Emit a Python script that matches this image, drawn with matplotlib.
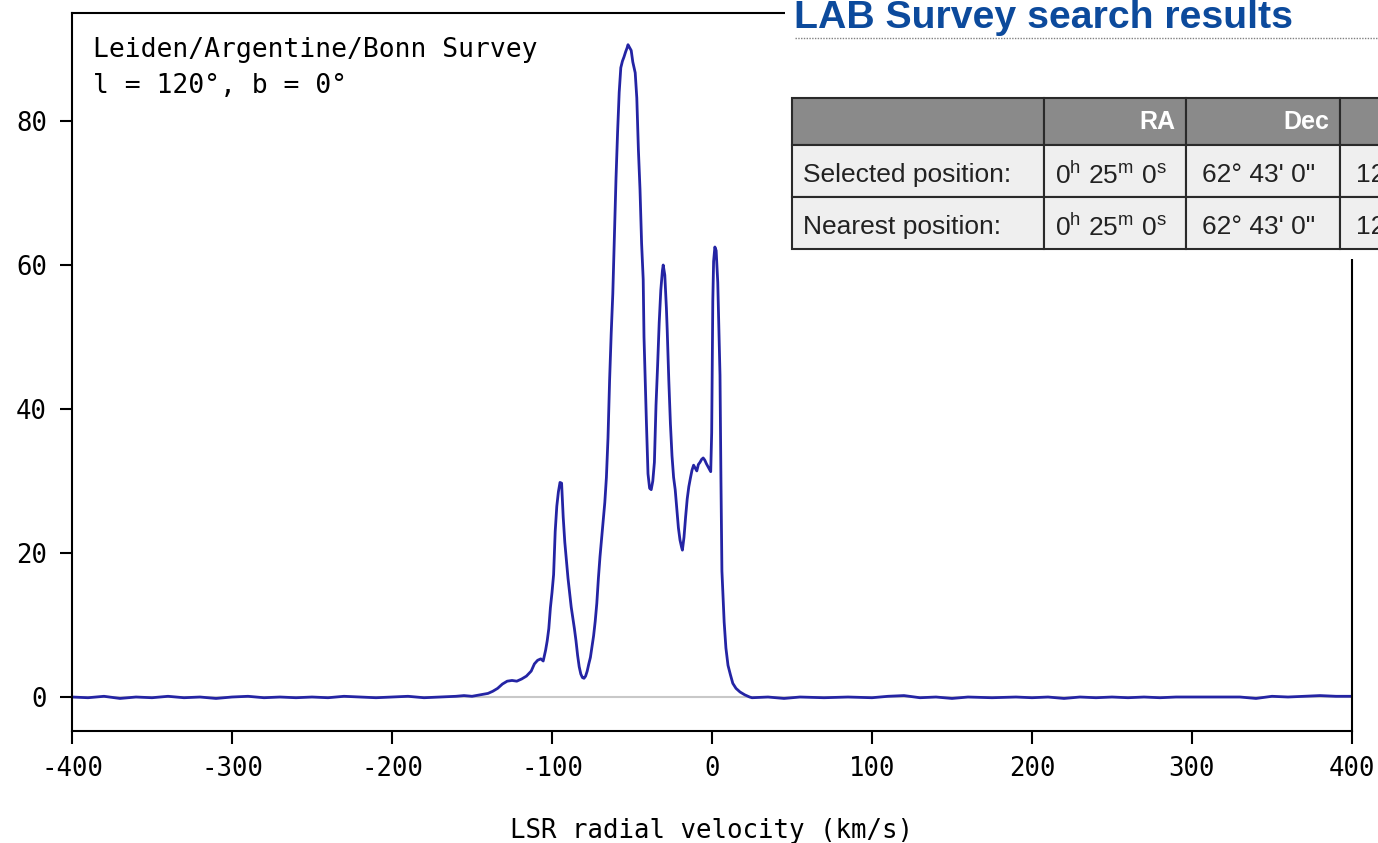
import numpy as np
import matplotlib
matplotlib.use("Agg")
import matplotlib.pyplot as plt
from matplotlib.patches import Rectangle
from matplotlib.lines import Line2D

plt.rcParams['mathtext.fontset'] = 'custom'
plt.rcParams['mathtext.rm'] = 'Liberation Sans'
plt.rcParams['mathtext.default'] = 'rm'

# LAB spectrum, l = 120, b = 0
velocity = [-400, -390, -380, -370, -360, -350, -340, -330, -320, -310, -300, -290, -280,
            -270, -260, -250, -240, -230, -220, -210, -200, -190, -180, -170, -160, -155,
            -150, -145, -140, -137, -134, -131, -128, -125, -122, -119, -116, -113, -111,
            -109, -107, -105.5, -104, -103, -102, -101, -100, -99, -98, -97, -96, -95, -94,
            -93, -92, -91, -90, -89, -88, -87, -86, -85, -84, -83, -82, -81, -80, -79, -78,
            -77, -76, -75, -74, -73, -72, -71, -70, -69, -68, -67, -66, -65, -64, -63, -62,
            -61, -60, -59, -58, -57, -56, -55, -54, -53, -52.5, -51.5, -50.5, -49.5, -48,
            -47, -46, -45, -44, -43, -42.5, -41.5, -41, -40, -39, -38, -37, -36, -35, -34,
            -33, -32, -31, -30.5, -29.5, -28.5, -28, -27, -26, -25, -24, -23, -22, -21, -20,
            -19, -18.5, -17.5, -16.5, -15.5, -14.5, -13.5, -12.5, -11.5, -10.5, -9.5, -8.5,
            -7.5, -6.5, -5.5, -4.5, -3.5, -2.5, -1.5, -0.8, -0.2, 0.5, 1.0, 1.8, 2.6, 3.6,
            4.2, 5.0, 5.6, 6.2, 7.0, 7.6, 8.7, 10, 11.5, 13, 15, 17.5, 20.5, 23.5,
            25, 35, 45, 55, 70, 85, 100, 110, 120, 130, 140, 150, 160, 175, 190, 200, 210,
            220, 230, 240, 250, 260, 270, 280, 290, 300, 310, 320, 330, 340, 350, 360, 370,
            380, 390, 400]
brightness = [0.0, -0.1, 0.1, -0.2, 0.0, -0.1, 0.1, -0.1, 0.0, -0.2, 0.0, 0.1, -0.1,
              0.0, -0.1, 0.0, -0.1, 0.1, 0.0, -0.1, 0.0, 0.1, -0.1, 0.0, 0.1, 0.2,
              0.1, 0.3, 0.5, 0.8, 1.2, 1.8, 2.2, 2.3, 2.2, 2.5, 2.9, 3.6, 4.6,
              5.1, 5.3, 5.0, 6.5, 7.8, 9.5, 12.4, 14.5, 17.0, 23.0, 26.5, 28.5, 29.8, 29.7,
              25.0, 21.5, 19.0, 16.5, 14.5, 12.5, 11.0, 9.5, 7.8, 5.8, 4.2, 3.2, 2.7, 2.6, 2.9, 3.6,
              4.6, 5.5, 7.0, 8.5, 10.5, 13.0, 16.5, 19.5, 22.0, 24.5, 27.0, 30.5, 36.0, 44.0, 50.5, 56.0,
              64.0, 72.0, 78.5, 84.0, 87.4, 88.3, 88.9, 89.6, 90.2, 90.6, 90.2, 89.8, 88.2, 86.7,
              83.2, 76.0, 70.5, 63.0, 58.0, 50.0, 42.0, 38.2, 31.0, 29.0, 28.8, 30.0, 32.6, 40.5, 46.0,
              52.0, 56.5, 59.2, 60.0, 58.6, 54.0, 51.0, 44.0, 38.0, 33.5, 30.5, 28.8, 26.2, 23.5, 21.8,
              20.8, 20.4, 22.2, 25.0, 27.5, 29.2, 30.4, 31.5, 32.2, 31.8, 31.4, 32.3,
              32.6, 33.0, 33.2, 32.9, 32.4, 32.0, 31.6, 31.3, 36.7, 55.0, 60.5, 62.5, 62.0, 57.6,
              52.0, 44.7, 30.0, 17.5, 13.5, 10.4, 6.8, 4.4, 3.1, 1.9, 1.2, 0.7, 0.3, 0.0,
              -0.1, 0.0, -0.2, 0.0, -0.1, 0.0, -0.1, 0.1, 0.2, -0.1, 0.0, -0.2, 0.0, -0.1, 0.0, -0.1, 0.0,
              -0.2, 0.0, -0.1, 0.0, -0.1, 0.0, -0.1, 0.0, 0.0, 0.0, 0.0, 0.0, -0.2, 0.1, 0.0, 0.1,
              0.2, 0.1, 0.1]

x_ticks = [-400, -300, -200, -100, 0, 100, 200, 300, 400]
y_ticks = [0, 20, 40, 60, 80]

survey_label = "Leiden/Argentine/Bonn Survey"
position_label = "l = 120°, b = 0°"
page_title = "LAB Survey search results"
table_header = ["", "RA", "Dec"]
table_rows = [["Selected position:", "0$^{h}$ 25$^{m}$ 0$^{s}$", "62° 43' 0\"", "120"],
              ["Nearest position:", "0$^{h}$ 25$^{m}$ 0$^{s}$", "62° 43' 0\"", "120"]]

W, H = 1378, 843
fig = plt.figure(figsize=(W / 100, H / 100), dpi=100)
ax = fig.add_axes([72 / W, 1 - 731 / H, 1280 / W, 718 / H])

mono = "DejaVu Sans Mono"
ax.axhline(0, color="#c8c8c8", lw=1.5, zorder=1)
ax.plot(velocity, brightness, color="#2424a4", lw=2.0, zorder=2)

ax.set_xlim(-400, 400)
ax.set_ylim(-4.72, 95)
ax.set_xticks(x_ticks)
ax.set_yticks(y_ticks)
ax.set_xticklabels([str(t) for t in x_ticks], family=mono, fontsize=18.5)
ax.set_yticklabels([str(t) for t in y_ticks], family=mono, fontsize=18.5)
ax.tick_params(direction="out", length=9, width=1.5, pad=9)
for s in ax.spines.values():
    s.set_linewidth(1.5)
ax.set_xlabel("LSR radial velocity (km/s)", family=mono, fontsize=18.5, labelpad=26)

ax.text(0.0164, 0.966, survey_label, transform=ax.transAxes, va="top", ha="left",
        family=mono, fontsize=19)
ax.text(0.0164, 0.916, position_label, transform=ax.transAxes, va="top", ha="left",
        family=mono, fontsize=19)


def fx(px):
    return px / W


def fy(py):
    return 1 - py / H


# web page overlay in the top right corner
fig.add_artist(Rectangle((fx(785), fy(259)), fx(700), 259 / H, transform=fig.transFigure,
                         facecolor="white", edgecolor="none", zorder=5))
fig.text(fx(794), fy(28), page_title, ha="left", va="baseline", family="Liberation Sans",
         fontweight="bold", fontsize=28.3, color="#0c4a9c", zorder=6)
fig.add_artist(Line2D([fx(795), 1.0], [fy(38), fy(38)], transform=fig.transFigure,
                      color="#808080", lw=1, ls=(0, (1, 1)), zorder=6))

col_edges = [792, 1044, 1186, 1340, 1500]
row_edges = [98, 145, 197, 249]
for r in range(3):
    top, bot = row_edges[r], row_edges[r + 1]
    face = "#8a8a8a" if r == 0 else "#efefef"
    for c in range(4):
        left, right = col_edges[c], col_edges[c + 1]
        fig.add_artist(Rectangle((fx(left), fy(bot)), fx(right - left), (bot - top) / H,
                                 transform=fig.transFigure, facecolor=face,
                                 edgecolor="#2a2a2a", lw=1.5, zorder=6))

for c, label in enumerate(table_header):
    if label:
        fig.text(fx(col_edges[c + 1] - 11), fy(122), label, ha="right", va="center",
                 family="Liberation Sans", fontweight="bold", fontsize=18, color="white", zorder=7)

for r, row in enumerate(table_rows):
    yc = fy((row_edges[r + 1] + row_edges[r + 2]) / 2 + 4)
    fig.text(fx(803), yc, row[0], ha="left", va="center", family="Liberation Sans",
             fontsize=19, color="#222222", zorder=7)
    fig.text(fx(1055), yc, row[1], ha="left", va="center", family="Liberation Sans",
             fontsize=19, color="#222222", zorder=7)
    fig.text(fx(1202), yc, row[2], ha="left", va="center", family="Liberation Sans",
             fontsize=19, color="#222222", zorder=7)
    fig.text(fx(1356), yc, row[3], ha="left", va="center", family="Liberation Sans",
             fontsize=19, color="#222222", zorder=7)

fig.savefig("out.png", dpi=100)
